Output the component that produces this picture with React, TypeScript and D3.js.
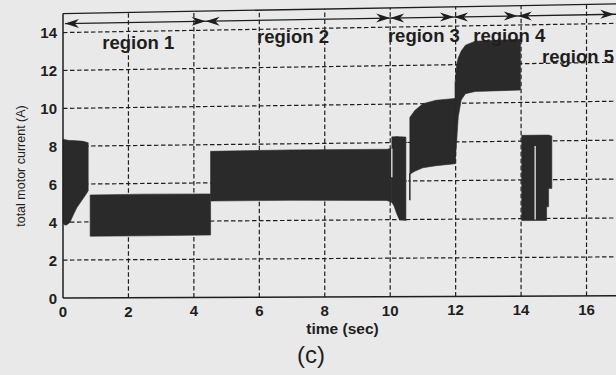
import React from "react";
import * as d3 from "d3";

// ---- data (time in sec, current in A) ----
const seg1T = [0, 0.05, 0.11, 0.21, 0.32, 0.42, 0.52, 0.62, 0.72, 0.77];
const seg1Hi = [8.35, 8.36, 8.33, 8.3, 8.3, 8.28, 8.27, 8.25, 8.2, 8.17];
const seg1Lo = [3.95, 3.85, 3.85, 3.98, 4.4, 4.75, 5.0, 5.25, 5.5, 5.65];

const seg2T = [0.83, 2.5, 4.51];
const seg2Hi = [5.42, 5.44, 5.42];
const seg2Lo = [3.25, 3.25, 3.27];

const seg3T = [4.51, 7.0, 9.9, 10.05];
const seg3Hi = [7.65, 7.68, 7.66, 7.7];
const seg3Lo = [5.05, 5.05, 5.0, 4.9];

const seg4T = [10.05, 10.12, 10.2, 10.28, 10.48];
const seg4Hi = [8.3, 8.3, 8.32, 8.3, 8.28];
const seg4Lo = [4.9, 4.7, 4.3, 4.0, 3.95];

const seg5T = [10.6, 10.75, 11.0, 11.4, 11.98];
const seg5Hi = [9.3, 9.65, 10.0, 10.17, 10.25];
const seg5Lo = [6.35, 6.5, 6.68, 6.78, 6.87];

const seg6T = [11.98, 12.03, 12.08, 12.17, 12.3, 12.6, 13.98];
const seg6Hi = [11.0, 12.0, 12.35, 12.7, 13.0, 13.2, 13.26];
const seg6Lo = [6.87, 8.0, 9.3, 10.17, 10.49, 10.6, 10.64];

const seg7T = [14.02, 14.78, 14.78, 14.84, 14.84, 14.94];
const seg7Hi = [8.3, 8.3, 8.3, 8.3, 8.3, 8.25];
const seg7Lo = [3.9, 3.9, 4.6, 4.6, 5.55, 5.55];

const gapT = [10.05, 10.53, 14.43];
const gapLo = [6.2, 5.0, 3.95];
const gapHi = [7.7, 8.0, 7.75];

const spikeT = [10.6];
const spikeLo = [5.0];
const spikeHi = [6.4];

const xGrid = [2, 4, 6, 8, 10, 12, 14, 16, 18];
const xTicks = [0, 2, 4, 6, 8, 10, 12, 14, 16];
const yTicks = [0, 2, 4, 6, 8, 10, 12, 14];

const regionBounds = [4.36, 10.0, 11.95, 13.9];
const regionNames = ["region 1", "region 2", "region 3", "region 4", "region 5"];
const regionLabelT = [1.2, 5.93, 9.93, 12.54, 14.64];
const regionLabelV = [13.09, 13.27, 13.24, 13.17, 12.02];
const arrowV = 14.47;
const arrowStartT = 0.06;
const arrowEndT = 16.85;

const W = 616;
const H = 375;
const BG = "#e9e9e9";
const INK = "#1e1e1e";
const FILL = "#2a2a2a";
const FONT = "'Liberation Sans', Arial, Helvetica, sans-serif";

const x = d3.scaleLinear().domain([0, 18]).range([63, 63 + 18 * 32.72]);
const y = d3.scaleLinear().domain([0, 15]).range([298, 298 - 15 * 18.96]);
// scan distortion: the right side of the scanned plot sits slightly higher
const tilt = (t: number, v: number) => (x(t) - x(0)) * (0.004 + 0.0009 * v);
const px = (t: number) => x(t);
const py = (t: number, v: number) => y(v) - tilt(t, v);

type Pt = { t: number; lo: number; hi: number };
const mk = (T: number[], Lo: number[], Hi: number[]): Pt[] =>
  T.map((t, i) => ({ t, lo: Lo[i], hi: Hi[i] }));

const segments: Pt[][] = [
  mk(seg1T, seg1Lo, seg1Hi),
  mk(seg2T, seg2Lo, seg2Hi),
  mk(seg3T, seg3Lo, seg3Hi),
  mk(seg4T, seg4Lo, seg4Hi),
  mk(seg5T, seg5Lo, seg5Hi),
  mk(seg6T, seg6Lo, seg6Hi),
  mk(seg7T, seg7Lo, seg7Hi),
];

const area = d3
  .area<Pt>()
  .x((d) => px(d.t))
  .y0((d) => py(d.t, d.lo))
  .y1((d) => py(d.t, d.hi));

function arrowHead(t: number, dir: number) {
  const tx = px(t);
  const ty = py(t, arrowV);
  const L = 14;
  const Wd = 4.5;
  return `M${tx},${ty} L${tx - dir * L},${ty - Wd} L${tx - dir * L * 0.7},${ty} L${tx - dir * L},${ty + Wd} Z`;
}

export default function App() {
  const dash = "4.5,2.5";
  return (
    <svg
      width={W}
      height={H}
      style={{ position: "absolute", left: 0, top: 0, display: "block" }}
      fontFamily={FONT}
    >
      <rect x={0} y={0} width={W} height={H} fill={BG} />
      {/* grid */}
      {yTicks
        .filter((v) => v > 0)
        .map((v) => (
          <line
            key={"gy" + v}
            x1={px(0)}
            y1={py(0, v)}
            x2={px(18)}
            y2={py(18, v)}
            stroke={INK}
            strokeWidth={1.2}
            strokeDasharray={dash}
          />
        ))}
      {xGrid.map((t) => (
        <line
          key={"gx" + t}
          x1={px(t)}
          y1={py(t, 0)}
          x2={px(t)}
          y2={py(t, 15)}
          stroke={INK}
          strokeWidth={1.2}
          strokeDasharray={dash}
        />
      ))}
      {/* data envelopes */}
      {segments.map((s, i) => (
        <path key={"s" + i} d={area(s) || ""} fill={FILL} stroke={FILL} strokeWidth={0.6} />
      ))}
      {gapT.map((t, i) => (
        <line
          key={"gap" + i}
          x1={px(t)}
          x2={px(t)}
          y1={py(t, gapLo[i])}
          y2={py(t, gapHi[i])}
          stroke={BG}
          strokeWidth={1.3}
        />
      ))}
      {spikeT.map((t, i) => (
        <line
          key={"sp" + i}
          x1={px(t)}
          x2={px(t)}
          y1={py(t, spikeLo[i])}
          y2={py(t, spikeHi[i])}
          stroke={FILL}
          strokeWidth={1.5}
        />
      ))}
      {/* axes frame */}
      <line x1={px(0)} y1={py(0, 0)} x2={px(0)} y2={py(0, 15)} stroke={INK} strokeWidth={1.5} />
      <line x1={px(0)} y1={py(0, 0)} x2={px(18)} y2={py(18, 0)} stroke={INK} strokeWidth={1.5} />
      <line x1={px(0)} y1={py(0, 15)} x2={px(18)} y2={py(18, 15)} stroke={INK} strokeWidth={1.3} />
      {/* tick labels */}
      {yTicks.map((v) => (
        <text
          key={"ty" + v}
          x={57}
          y={py(0, v) + 5.5}
          textAnchor="end"
          fontSize={15}
          fontWeight="bold"
          fill={INK}
        >
          {v}
        </text>
      ))}
      {xTicks.map((t) => (
        <text
          key={"tx" + t}
          x={px(t)}
          y={py(t, 0) + 19}
          textAnchor="middle"
          fontSize={15}
          fontWeight="bold"
          fill={INK}
        >
          {t}
        </text>
      ))}
      {/* region arrows */}
      <line
        x1={px(arrowStartT)}
        y1={py(arrowStartT, arrowV)}
        x2={px(18)}
        y2={py(18, arrowV)}
        stroke={INK}
        strokeWidth={1.3}
      />
      <path d={arrowHead(arrowStartT, -1)} fill={INK} />
      <path d={arrowHead(arrowEndT, 1)} fill={INK} />
      {regionBounds.map((b, i) => (
        <g key={"rb" + i}>
          <path d={arrowHead(b, 1)} fill={INK} />
          <path d={arrowHead(b, -1)} fill={INK} />
        </g>
      ))}
      {regionNames.map((n, i) => (
        <text
          key={"rn" + i}
          x={px(regionLabelT[i])}
          y={py(regionLabelT[i], regionLabelV[i])}
          fontSize={18.5}
          fontWeight="bold"
          fill={INK}
        >
          {n}
        </text>
      ))}
      {/* axis titles */}
      <text
        transform="translate(25,166) rotate(-90)"
        textAnchor="middle"
        fontSize={12.5}
        fill={INK}
      >
        total motor current (A)
      </text>
      <text x={342.5} y={334} textAnchor="middle" fontSize={15.5} fontWeight="bold" fill={INK}>
        time (sec)
      </text>
      <text x={311} y={363} textAnchor="middle" fontSize={24} fill={INK}>
        (c)
      </text>
    </svg>
  );
}
